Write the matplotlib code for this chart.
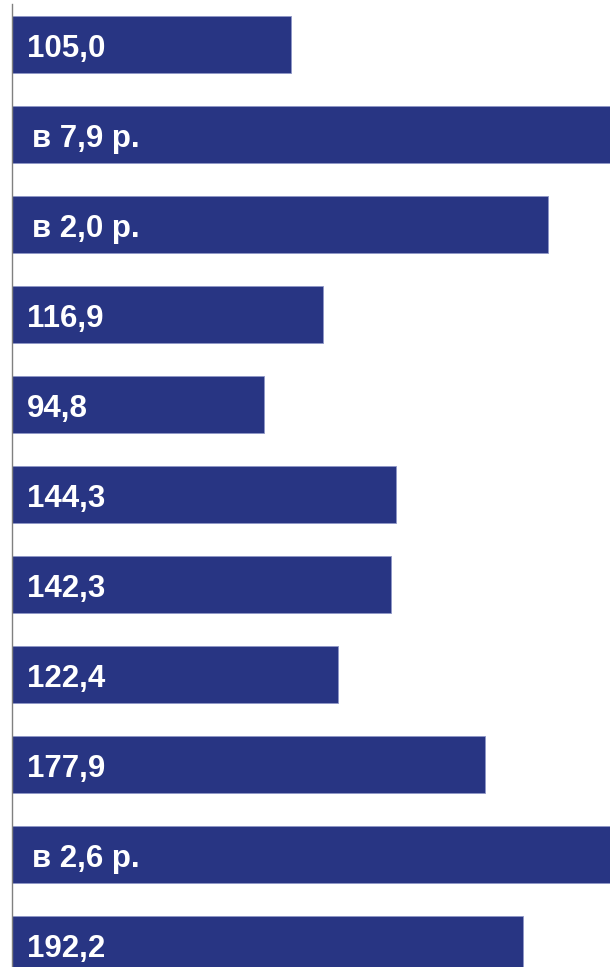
import matplotlib
matplotlib.use("Agg")
import matplotlib.pyplot as plt
import numpy as np

# значения (в % к предыдущему году); для "в N р." - длина столбца
labels = ["105,0", "в 7,9 р.", "в 2,0 р.", "116,9", "94,8", "144,3",
          "142,3", "122,4", "177,9", "в 2,6 р.", "192,2"]
values = [105.0, 790.0, 201.5, 116.9, 94.8, 144.3, 142.3, 122.4, 177.9, 260.0, 192.2]

plt.rcParams['font.family'] = ['Liberation Sans', 'DejaVu Sans']

fig = plt.figure(figsize=(6.10, 9.67), dpi=100)
ax = fig.add_axes([12 / 610, 0, 1 - 12 / 610, 1])

y = np.arange(len(values))
ax.barh(y, values, height=0.64, color='#283583', edgecolor='#8f97c8',
        linewidth=0.6, left=0)

for i, lab in enumerate(labels):
    # подписи "в ... р." чуть сдвинуты вправо
    x0 = 7.5 if lab.startswith("в") else 5.6
    ax.text(x0, i + 0.05, lab, color='white', fontsize=22.5, fontweight='bold',
            va='center', ha='left')

ax.set_xlim(0, 224.8)
ax.set_ylim(10.25, -0.494)

for s in ['top', 'right', 'bottom']:
    ax.spines[s].set_visible(False)
ax.spines['left'].set_color('#808080')
ax.spines['left'].set_linewidth(1.0)
ax.spines['left'].set_bounds(10.25, -0.45)
ax.set_xticks([])
ax.set_yticks([])

fig.savefig("out.png", dpi=100)
